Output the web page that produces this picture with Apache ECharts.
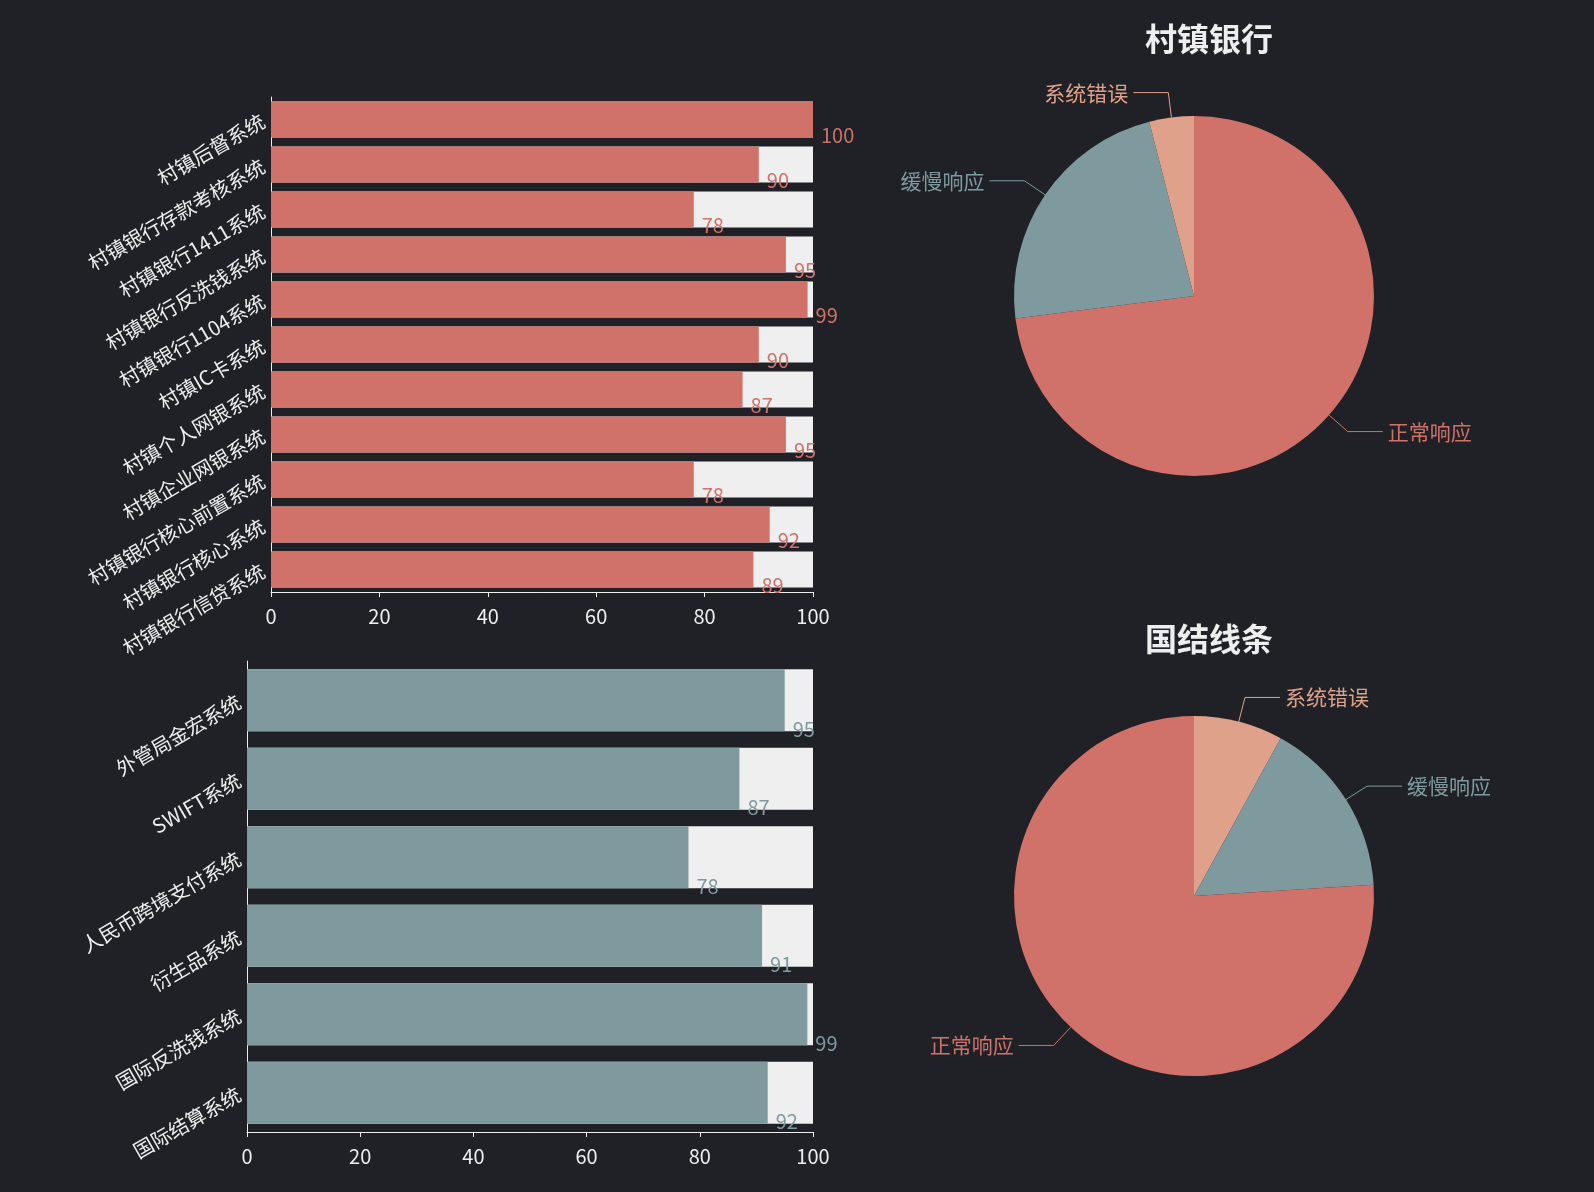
<!DOCTYPE html>
<html><head><meta charset="utf-8">
<script src="https://cdn.jsdelivr.net/npm/echarts@6/dist/echarts.min.js"></script>
<style>html,body{margin:0;background:#1f2126}#c{width:1594px;height:1192px}</style>
</head><body><div id="c"></div>
<script>
const topCats=['村镇后督系统','村镇银行存款考核系统','村镇银行1411系统','村镇银行反洗钱系统','村镇银行1104系统','村镇IC卡系统','村镇个人网银系统','村镇企业网银系统','村镇银行核心前置系统','村镇银行核心系统','村镇银行信贷系统'];
const topVals=[100,90,78,95,99,90,87,95,78,92,89];
const botCats=['外管局金宏系统','SWIFT系统','人民币跨境支付系统','衍生品系统','国际反洗钱系统','国际结算系统'];
const botVals=[95,87,78,91,99,92];
const pie1=[{name:'正常响应',value:73},{name:'缓慢响应',value:23},{name:'系统错误',value:4}];
const pie2=[{name:'系统错误',value:8},{name:'缓慢响应',value:16},{name:'正常响应',value:76}];
const RED='#d0716a',TEAL='#7f9a9e',PEACH='#e0a18a',FONT='"Noto Sans CJK SC","Noto Sans",sans-serif';
const c=echarts.init(document.getElementById('c'));
const axisX=i=>({type:'value',gridIndex:i,max:100,interval:20,splitLine:{show:false},
  axisLine:{show:true,lineStyle:{color:'#eee'}},axisTick:{show:true,lineStyle:{color:'#eee'}},
  axisLabel:{color:'#eee',fontSize:20,margin:14,fontFamily:FONT}});
const axisY=(i,cats)=>({type:'category',gridIndex:i,data:cats,inverse:true,
  axisLine:{lineStyle:{color:'#eee'}},axisTick:{lineStyle:{color:'#eee'},length:8},
  axisLabel:{color:'#eee',fontSize:20,rotate:30,fontFamily:FONT}});
const bars=(i,vals,col,bw)=>[
 {type:'bar',xAxisIndex:i,yAxisIndex:i,data:vals.map(()=>100),barWidth:bw,barGap:'-100%',itemStyle:{color:'#efefef'},silent:true,z:1},
 {type:'bar',xAxisIndex:i,yAxisIndex:i,data:vals,barWidth:bw,itemStyle:{color:col},z:2,
  label:{show:true,position:['100%','100%'],offset:[8,-2],verticalAlign:'middle',color:col,fontSize:20,fontFamily:FONT}}];
const pie=(cy,data,title)=>({type:'pie',center:[1194,cy],radius:180,data,startAngle:90,
  itemStyle:{borderColor:'#1f2126',borderWidth:0},
  label:{fontSize:21,fontFamily:FONT,color:'inherit'},
  labelLine:{length:25,length2:35},
  color:undefined});
c.setOption({
 backgroundColor:'#1f2126',
 color:[RED,TEAL,PEACH],
 title:[{text:'村镇银行',left:1204,top:18,textAlign:'center',textStyle:{color:'#eee',fontSize:32,fontFamily:FONT}},
        {text:'国结线条',left:1204,top:618,textAlign:'center',textStyle:{color:'#eee',fontSize:32,fontFamily:FONT}}],
 grid:[{left:271,width:542,top:97,height:495},{left:247,width:566,top:661,height:471}],
 xAxis:[axisX(0),axisX(1)],
 yAxis:[axisY(0,topCats),axisY(1,botCats)],
 series:[...bars(0,topVals,RED,36),...bars(1,botVals,TEAL,62),
  Object.assign(pie(296,pie1),{data:pie1.map((d,k)=>({...d,itemStyle:{color:[RED,TEAL,PEACH][k]}}))}),
  Object.assign(pie(896,pie2),{data:pie2.map((d,k)=>({...d,itemStyle:{color:[PEACH,TEAL,RED][k]}}))})]
});
</script></body></html>
